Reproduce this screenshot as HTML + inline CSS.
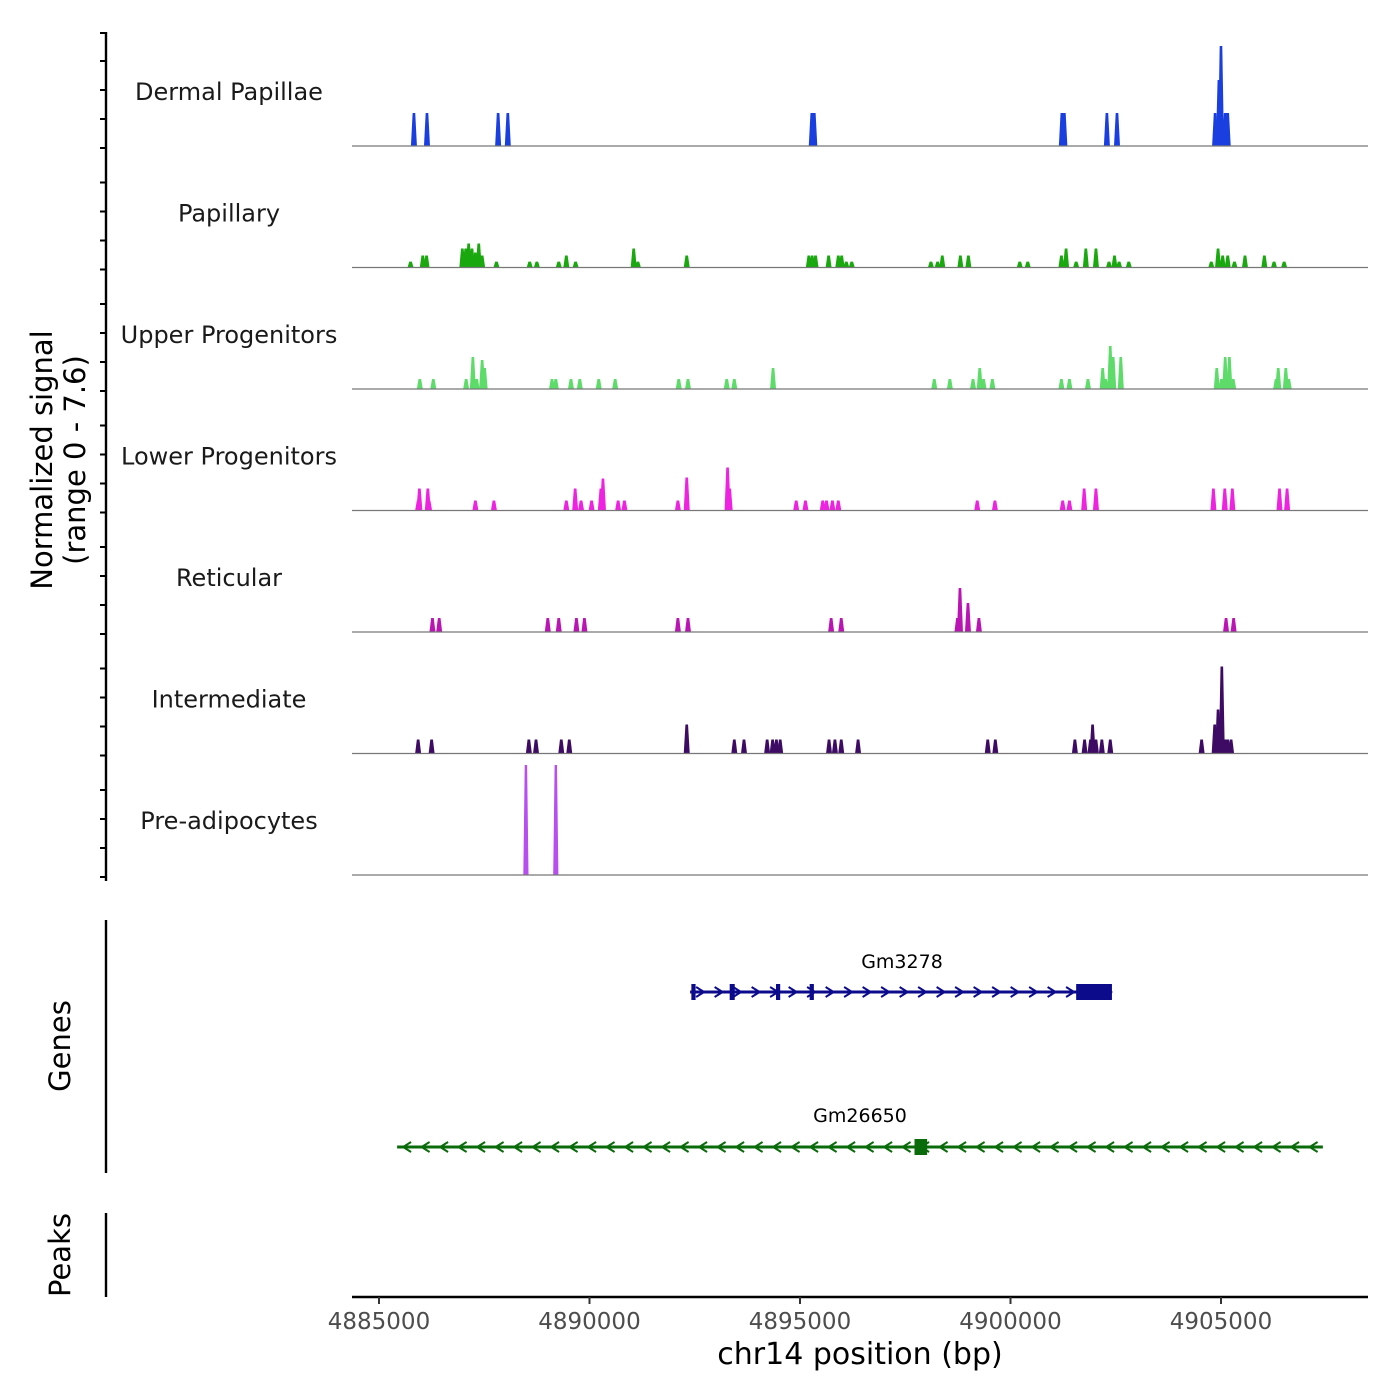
<!DOCTYPE html>
<html><head><meta charset="utf-8">
<style>html,body{margin:0;padding:0;background:#fff;}svg{display:block;font-family:"DejaVu Sans","Liberation Sans",sans-serif;}</style>
</head><body>
<svg id="chart" width="1400" height="1400" viewBox="0 0 1400 1400" xmlns="http://www.w3.org/2000/svg">
<g id="tracks"></g>
<g id="genes"></g>
<g id="axes"></g>
<text transform="translate(58,460) rotate(-90)" text-anchor="middle" font-size="29" fill="#000"><tspan x="0" dy="-6">Normalized signal</tspan><tspan x="0" dy="33">(range 0 - 7.6)</tspan></text>
<text transform="translate(70,1046) rotate(-90)" text-anchor="middle" font-size="29" fill="#000">Genes</text>
<text transform="translate(70,1255) rotate(-90)" text-anchor="middle" font-size="29" fill="#000">Peaks</text>
<text x="860" y="1364" text-anchor="middle" font-size="30" fill="#000">chr14 position (bp)</text>
</svg>
<script>
const trackNames = ["Dermal Papillae","Papillary","Upper Progenitors","Lower Progenitors","Reticular","Intermediate","Pre-adipocytes"];
const trackColors = ["#1a3fe0","#1aa80f","#5ddc6a","#ee22e0","#bb14b4","#3d0b63","#b84df0"];
const dermalPos = [4885.83,4886.14,4887.83,4888.06,4895.28,4895.34,4901.22,4901.28,4902.29,4902.53,4904.86,4904.95,4905.0,4905.1,4905.16];
const dermalVal = [2.28,2.28,2.28,2.28,2.28,2.28,2.28,2.28,2.28,2.28,2.28,4.56,6.91,2.28,2.28];
const papPos = [4885.75,4886.04,4886.13,4886.98,4887.06,4887.13,4887.21,4887.29,4887.37,4887.45,4887.79,4888.58,4888.75,4889.27,4889.45,4889.67,4891.05,4891.15,4892.31,4895.21,4895.29,4895.37,4895.68,4895.91,4895.99,4896.10,4896.23,4898.11,4898.27,4898.38,4898.81,4899.00,4900.22,4900.41,4901.21,4901.32,4901.56,4901.79,4902.03,4902.34,4902.47,4902.58,4902.81,4904.77,4904.93,4905.04,4905.16,4905.32,4905.57,4906.03,4906.26,4906.50];
const papVal = [0.41,0.83,0.83,1.31,1.31,1.66,1.31,1.04,1.66,0.83,0.41,0.41,0.41,0.41,0.83,0.41,1.31,0.41,0.83,0.83,0.83,0.83,0.83,0.83,0.83,0.41,0.41,0.41,0.41,0.83,0.83,0.83,0.41,0.41,0.83,1.31,0.41,1.31,1.31,0.41,0.83,0.41,0.41,0.41,1.31,0.83,0.83,0.41,0.83,0.83,0.41,0.41];
const upPos = [4885.97,4886.29,4887.07,4887.23,4887.32,4887.45,4887.51,4889.11,4889.20,4889.56,4889.77,4890.22,4890.61,4892.12,4892.34,4893.26,4893.44,4894.36,4898.19,4898.56,4899.11,4899.27,4899.36,4899.57,4901.21,4901.40,4901.84,4902.19,4902.26,4902.37,4902.44,4902.62,4904.90,4905.01,4905.10,4905.20,4905.29,4906.31,4906.36,4906.54,4906.61];
const upVal = [0.69,0.69,0.69,2.21,0.69,2.0,1.45,0.69,0.69,0.69,0.69,0.69,0.69,0.69,0.69,0.69,0.69,1.45,0.69,0.69,0.69,1.45,0.69,0.69,0.69,0.69,0.69,1.45,0.69,2.97,2.21,2.21,1.45,0.69,2.21,2.21,0.69,0.69,1.45,1.45,0.69];
const lowPos = [4885.93,4885.96,4886.16,4886.19,4887.29,4887.73,4889.45,4889.66,4889.80,4890.05,4890.27,4890.32,4890.68,4890.83,4892.10,4892.31,4893.28,4893.33,4894.91,4895.13,4895.54,4895.63,4895.77,4895.91,4899.21,4899.63,4901.24,4901.40,4901.75,4902.03,4904.82,4905.09,4905.27,4906.39,4906.57];
const lowVal = [0.69,1.52,1.52,0.69,0.69,0.69,0.69,1.52,0.69,0.69,1.52,2.21,0.69,0.69,0.69,2.28,2.97,1.52,0.69,0.69,0.69,0.69,0.69,0.69,0.69,0.69,0.69,0.69,1.52,1.52,1.52,1.52,1.52,1.52,1.52];
const retPos = [4886.27,4886.43,4889.01,4889.27,4889.69,4889.88,4892.10,4892.34,4895.74,4895.98,4898.74,4898.80,4898.99,4899.25,4905.12,4905.30];
const retVal = [0.97,0.97,0.97,0.97,0.97,0.97,0.97,0.97,0.97,0.97,0.97,3.04,2.0,0.97,0.97,0.97];
const intPos = [4885.93,4886.25,4888.56,4888.73,4889.33,4889.52,4892.31,4893.44,4893.67,4894.22,4894.35,4894.44,4894.53,4895.69,4895.83,4895.98,4896.38,4899.46,4899.64,4901.53,4901.76,4901.90,4901.95,4902.03,4902.17,4902.37,4904.54,4904.85,4904.93,4905.02,4905.10,4905.16,4905.24];
const intVal = [0.97,0.97,0.97,0.97,0.97,0.97,2.0,0.97,0.97,0.97,0.97,0.97,0.97,0.97,0.97,0.97,0.97,0.97,0.97,0.97,0.97,0.97,2.0,0.97,0.97,0.97,0.97,2.0,3.04,6.01,0.97,0.97,0.97];
const prePos = [4888.49,4889.20];
const preVal = [7.6,7.6];
const trackPos = [dermalPos,papPos,upPos,lowPos,retPos,intPos,prePos];
const trackVal = [dermalVal,papVal,upVal,lowVal,retVal,intVal,preVal];
const xTicks = [4885000,4890000,4895000,4900000,4905000];
const yMax = 7.6;

const NS="http://www.w3.org/2000/svg";
function mk(tag,attrs,parent){const e=document.createElementNS(NS,tag);for(const k in attrs)e.setAttribute(k,attrs[k]);parent.appendChild(e);return e;}
const X0=352,X1=1368,BP0=4884359,BP1=4908492;
function xs(bp){return X0+(bp-BP0)/(BP1-BP0)*(X1-X0);}
const base0=146,step=121.5,trackH=110;
function ys(v,ti){return base0+ti*step - Math.min(v,yMax)/yMax*trackH;}

const tg=document.getElementById('tracks');
trackNames.forEach((name,ti)=>{
  const b=base0+ti*step;
  const g=mk('g',{},tg);
  
  
  const lbl=mk('text',{x:229,y:b-46,'text-anchor':'middle','font-size':24,fill:'#1a1a1a'},g);
  lbl.textContent=name;
  
  
  trackPos[ti].forEach((p,i)=>{
    const bp=p*1000, x=xs(bp), y=ys(trackVal[ti][i],ti);
    const hw=ti===6?2.6:3, tw=ti===6?1.2:1.3;
    const pk=mk('polygon',{points:`${x-hw},${b} ${x-tw},${y} ${x+tw},${y} ${x+hw},${b}`,fill:trackColors[ti]},g);
    
    
  });
  const bl=mk('line',{x1:X0,x2:X1,y1:b,y2:b,stroke:'#777',"stroke-width":1.2},g);
  
  
});

const gg=document.getElementById('genes');
function gene(name,s,e,y,color,dir,exons,labelX,labelY){
  const g=mk('g',{},gg);
  
  
  mk('line',{x1:xs(s),x2:xs(e),y1:y,y2:y,stroke:color,'stroke-width':3},g);
  for(let x=xs(s)+10;x<xs(e)-4;x+=18.5){
    const d=dir*4;
    mk('polyline',{points:`${x-d},${y-5} ${x+d},${y} ${x-d},${y+5}`,fill:'none',stroke:color,'stroke-width':2},g);
  }
  exons.forEach(ex=>{const x1=xs(ex[0]),x2=xs(ex[1]);mk('rect',{x:x1,y:y-8,width:Math.max(x2-x1,4),height:16,fill:color},g);});
  const t=mk('text',{x:labelX,y:labelY,'text-anchor':'middle','font-size':19,fill:'#000'},g);
  t.textContent=name;
}
gene('Gm3278',4892390,4902410,992,'#0b0b8c',1,[[4892420,4892520],[4893330,4893450],[4894430,4894530],[4895230,4895330],[4901560,4902410]],902,968);
gene('Gm26650',4885430,4907420,1147,'#0a6b0a',-1,[[4897720,4898020]],860,1122);

const ag=document.getElementById('axes');
const la=mk('line',{x1:106,x2:106,y1:32,y2:881,stroke:'#000','stroke-width':2.4},ag);


for(let ti=0;ti<7;ti++){const b=base0+ti*step;[0,29,58,87].forEach(o=>{mk('line',{x1:100,x2:106,y1:b-o+2,y2:b-o+2,stroke:'#000','stroke-width':2},ag);});}
mk('line',{x1:100,x2:106,y1:33,y2:33,stroke:'#000','stroke-width':2},ag);
mk('line',{x1:106,x2:106,y1:920,y2:1173,stroke:'#000','stroke-width':2.4},ag);
mk('line',{x1:106,x2:106,y1:1213,y2:1297,stroke:'#000','stroke-width':2.4},ag);
const xa=mk('line',{x1:X0,x2:X1,y1:1297,y2:1297,stroke:'#000','stroke-width':2.4},ag);


xTicks.forEach(t=>{
  const x=xs(t);
  mk('line',{x1:x,x2:x,y1:1297,y2:1304,stroke:'#333','stroke-width':2},ag);
  const tx=mk('text',{x:x,y:1329,'text-anchor':'middle','font-size':23,fill:'#4d4d4d'},ag);
  tx.textContent=String(t);
  
  
});
</script>
</body></html>
